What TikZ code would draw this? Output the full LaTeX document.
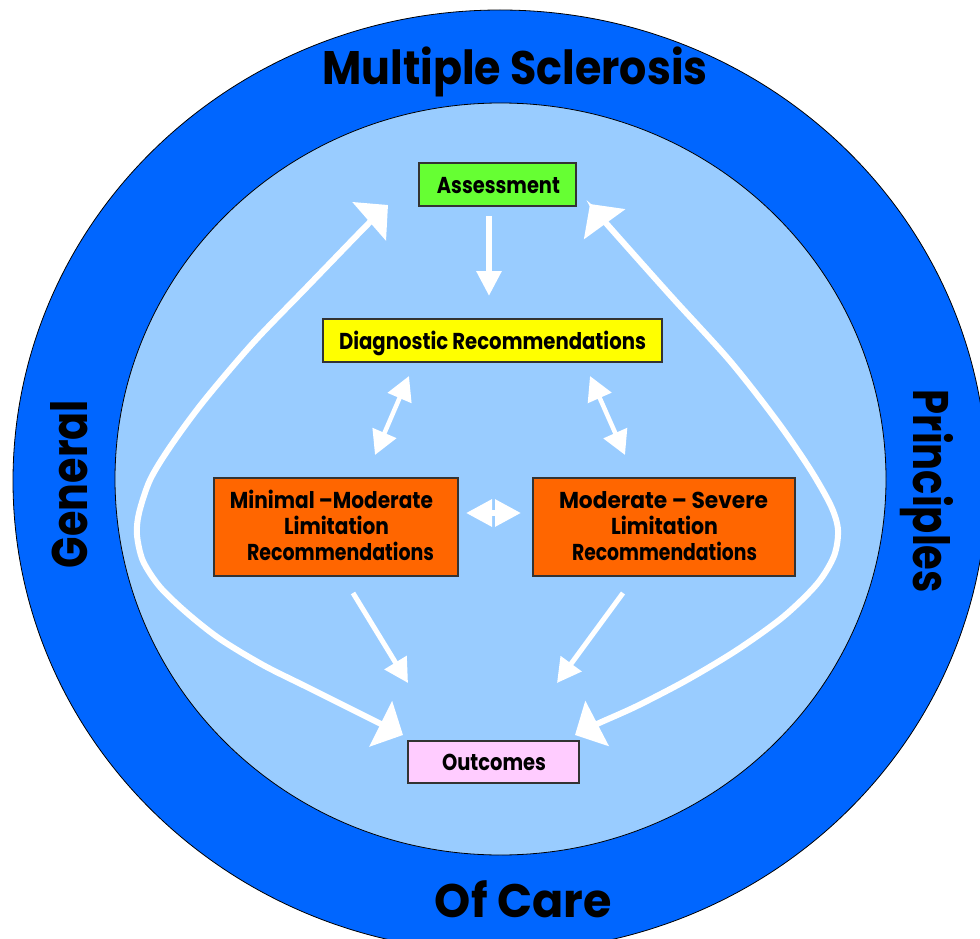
\documentclass[tikz,border=0pt]{standalone}
\usepackage{fontspec}
\setmainfont{Poppins}
\usepackage{graphicx}
\usetikzlibrary{arrows.meta}
\definecolor{outerblue}{HTML}{0066FF}
\definecolor{innerblue}{HTML}{99CCFF}
\definecolor{assessgreen}{HTML}{66FF33}
\definecolor{diagyellow}{HTML}{FFFF00}
\definecolor{limorange}{HTML}{FF6600}
\definecolor{outpink}{HTML}{FFCCFF}
\definecolor{boxline}{HTML}{333333}
\newcommand\fitw[2]{\resizebox{#1}{\height}{#2}}
\begin{document}
\begin{tikzpicture}[x=1pt,y=-1pt,
  boxnode/.style={draw=boxline, line width=1.2pt, inner sep=0pt},
  lbl/.style={inner sep=0pt, anchor=base, font=\bfseries\fontsize{23}{26}\selectfont},
  bigtxt/.style={inner sep=0pt, anchor=base, font=\bfseries\fontsize{47}{50}\selectfont},
  sidetxt/.style={inner sep=0pt, anchor=base, font=\bfseries\fontsize{50}{52}\selectfont},
  bigarr/.style={draw=white, line width=6pt, {Triangle[length=25pt,width=50pt]}-{Triangle[length=25pt,width=50pt]}},
  medarr/.style={draw=white, line width=6pt, -{Triangle[length=25pt,width=24pt]}},
  diagarr/.style={draw=white, line width=5pt, -{Triangle[length=24pt,width=25pt]}},
  dblarr/.style={draw=white, line width=4.5pt, {Triangle[length=24pt,width=25pt]}-{Triangle[length=24pt,width=25pt]}},
  hdblarr/.style={draw=white, line width=6pt, {Triangle[length=26pt,width=26pt]}-{Triangle[length=26pt,width=26pt]}}
]
\useasboundingbox (0,0) rectangle (980,939);
\clip (0,0) rectangle (980,939);
\fill[white] (0,0) rectangle (980,939);

% rings
\draw[fill=outerblue, line width=0.8pt] (500,481) ellipse [x radius=487, y radius=471];
\draw[fill=innerblue, line width=0.8pt] (500.5,479) ellipse [x radius=385.5, y radius=376];

% ring texts
\node[bigtxt] (tMS) at (515,85) {\fitw{385pt}{Multiple Sclerosis}};
\node[bigtxt] (tOC) at (523.5,917) {\fitw{177pt}{Of Care}};
\node[sidetxt, rotate=90] (tGen) at (87,484) {\fitw{168pt}{General}};
\node[sidetxt, rotate=-90] (tPri) at (913,491.5) {\fitw{203pt}{Principles}};

% boxes
\node[boxnode, fill=assessgreen, minimum width=157pt, minimum height=43pt] (A) at (497.5,184.5) {};
\node[lbl] (tA) at (498.4,193) {\fitw{123pt}{Assessment}};

\node[boxnode, fill=diagyellow, minimum width=339pt, minimum height=43pt] (D) at (492.5,340.5) {};
\node[lbl] (tD) at (492.5,349) {\fitw{307pt}{Diagnostic Recommendations}};

\node[boxnode, fill=limorange, minimum width=244pt, minimum height=98pt] (M) at (336,527) {};
\node[lbl] (tM1) at (331.5,508) {\fitw{203pt}{Minimal –Moderate}};
\node[lbl] (tM2) at (336.5,534) {\fitw{105pt}{Limitation}};
\node[lbl] (tM3) at (340.5,560) {\fitw{187pt}{Recommendations}};

\node[boxnode, fill=limorange, minimum width=262pt, minimum height=98pt] (S) at (664,527) {};
\node[lbl] (tS1) at (663.5,508) {\fitw{209pt}{Moderate – Severe}};
\node[lbl] (tS2) at (664.5,534) {\fitw{107pt}{Limitation}};
\node[lbl] (tS3) at (664.5,560) {\fitw{185pt}{Recommendations}};

\node[boxnode, fill=outpink, minimum width=171pt, minimum height=42pt] (O) at (493.5,762) {};
\node[lbl] (tO) at (494,770) {\fitw{104pt}{Outcomes}};

% arrow end points
\coordinate (a1) at (489,216);
\coordinate (a2) at (489,296);
\coordinate (dl1) at (409,376);
\coordinate (dl2) at (375,455);
\coordinate (dr1) at (590,376);
\coordinate (dr2) at (625,455);
\coordinate (h1) at (466,513);
\coordinate (h2) at (521,513);
\coordinate (ml1) at (353,593);
\coordinate (ml2) at (408,683);
\coordinate (sr1) at (623,593);
\coordinate (sr2) at (557,683);
\coordinate (cLt) at (388,205);
\coordinate (cLb) at (403,735);
\coordinate (cRt) at (590,204);
\coordinate (cRb) at (575,735);

% arrows
\draw[medarr] (a1) -- (a2);
\draw[dblarr] (dl1) -- (dl2);
\draw[dblarr] (dr1) -- (dr2);
\draw[hdblarr] (h1) -- (h2);
\draw[diagarr] (ml1) -- (ml2);
\draw[diagarr] (sr1) -- (sr2);

\draw[bigarr] plot[smooth, tension=0.5] coordinates {(cLt) (368,224) (307,287) (253,343) (203,402) (170,447) (150,480) (139,513) (137,535) (143,561) (160,587) (187,613) (220,639) (263,665) (307,687) (353,710) (cLb)};
\draw[bigarr] plot[smooth, tension=0.5] coordinates {(cRt) (605,222) (670,295) (730,361) (777,421) (810,469) (831,506) (838,530) (834,556) (817,584) (783,617) (737,650) (687,680) (637,706) (597,724) (cRb)};
\end{tikzpicture}
\end{document}
